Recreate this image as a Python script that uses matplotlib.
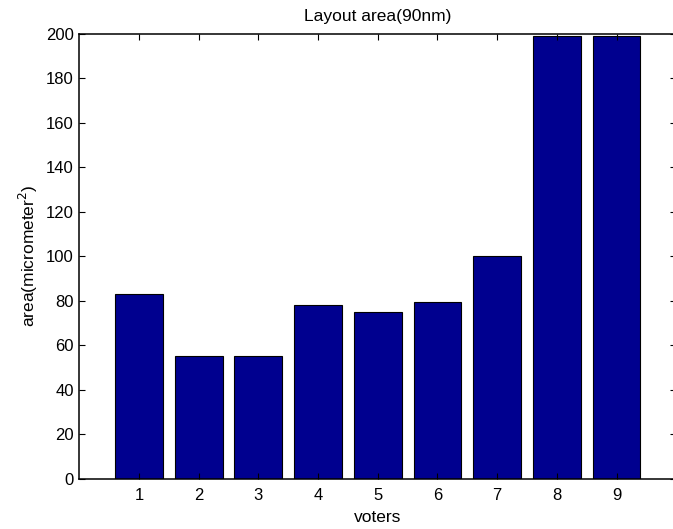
import matplotlib
matplotlib.use('Agg')
import matplotlib.pyplot as plt

# voters and their layout area (micrometer^2)
voters = [1, 2, 3, 4, 5, 6, 7, 8, 9]
area = [83, 55, 55, 78, 75, 79.5, 100, 199, 199]
y_ticks = list(range(0, 201, 20))

plt.rcParams['font.family'] = ['Liberation Sans', 'DejaVu Sans']
plt.rcParams['font.size'] = 12

fig = plt.figure(figsize=(6.73, 5.29), dpi=100)
ax = fig.add_axes([0.1178, 0.0951, 0.887, 0.8412])

ax.bar(voters, area, 0.8, color='#00008F', edgecolor='black', linewidth=0.8)

ax.set_xlim(0, 10)
ax.set_ylim(0, 200)
ax.set_xticks(voters)
ax.set_yticks(y_ticks)
ax.tick_params(direction='in', top=True, right=True, length=4, width=0.8)
ax.tick_params(axis='x', pad=7)
ax.tick_params(axis='y', pad=4)

for s in ax.spines.values():
    s.set_linewidth(1.1)

ax.set_title('Layout area(90nm)', fontsize=12.5, pad=9)
ax.set_xlabel('voters', fontsize=12.5, labelpad=5)
ax.set_ylabel('area(micrometer$^2$)', fontsize=12.5, labelpad=4)

fig.savefig('out.png', dpi=100)
